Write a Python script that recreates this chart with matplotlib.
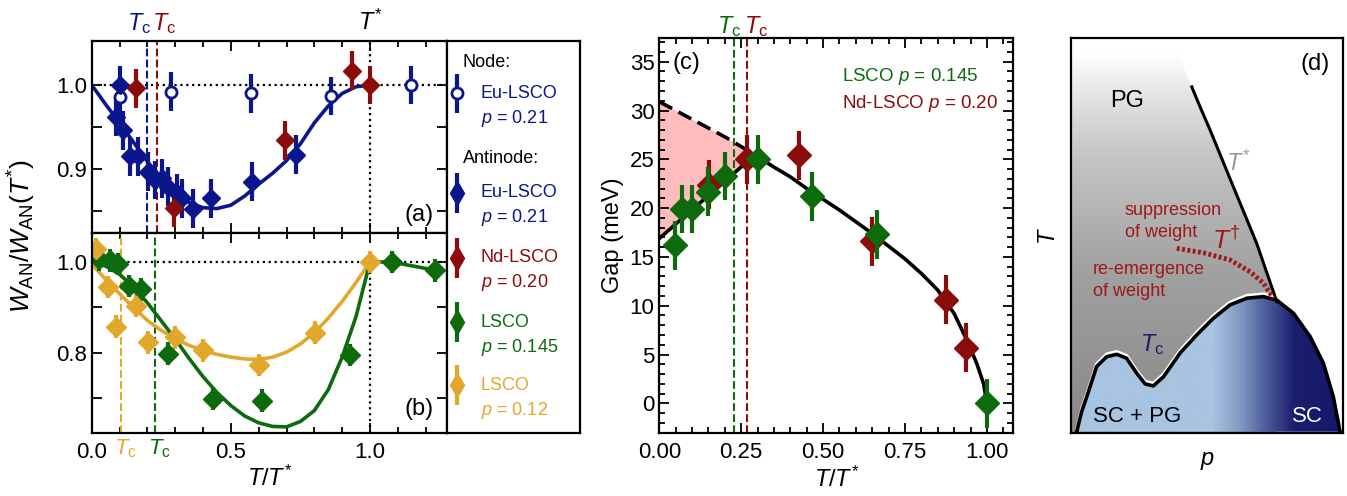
import numpy as np
import matplotlib
matplotlib.use('Agg')
import matplotlib.pyplot as plt
from matplotlib.colors import LinearSegmentedColormap
from matplotlib.patches import Polygon
from matplotlib.ticker import MultipleLocator, FixedLocator, NullFormatter, FormatStrFormatter

plt.rcParams['font.family'] = ['Liberation Sans', 'DejaVu Sans']
plt.rcParams['mathtext.fontset'] = 'custom'
plt.rcParams['mathtext.rm'] = 'Liberation Sans'
plt.rcParams['mathtext.it'] = 'Liberation Sans:italic'
plt.rcParams['mathtext.sf'] = 'Liberation Sans'
plt.rcParams['font.size'] = 16

blue = '#0c168c'
red = '#8c0c0c'
green = '#0d6b0d'
gold = '#e2a82c'

# panel (a): Eu-LSCO node / antinode, Nd-LSCO antinode
eu_node_x = [0.100, 0.284, 0.574, 0.859, 1.146]
eu_node_y = [0.986, 0.992, 0.990, 0.987, 1.000]
eu_an_x = [0.100, 0.087, 0.114, 0.138, 0.167, 0.203, 0.227, 0.252, 0.275, 0.305, 0.323, 0.363, 0.429, 0.577, 0.733]
eu_an_y = [1.000, 0.962, 0.946, 0.915, 0.915, 0.897, 0.887, 0.889, 0.879, 0.871, 0.865, 0.853, 0.865, 0.885, 0.917]
nd_an_x = [0.158, 0.294, 0.695, 0.934, 1.000]
nd_an_y = [0.996, 0.854, 0.934, 1.017, 1.000]
fit_a_x = [0, .05, .1, .15, .2, .25, .3, .35, .4, .45, .5, .55, .6, .65, .7, .75, .8, .85, .9, .95, 1.0]
fit_a_y = [1.0, .977, .955, .932, .909, .889, .872, .860, .854, .853, .857, .868, .882, .895, .910, .930, .955, .975, .990, .998, 1.0]
err_a = 0.023

# panel (b): LSCO p=0.145 and p=0.12
l145_x = [0.027, 0.065, 0.094, 0.133, 0.178, 0.274, 0.436, 0.611, 0.928, 1.078, 1.234]
l145_y = [1.006, 1.004, 0.996, 0.947, 0.940, 0.798, 0.698, 0.694, 0.795, 1.000, 0.982]
l145_hi_x = [1.0, 1.078, 1.234]
l145_hi_y = [1.0, 1.000, 0.982]
l12_x = [0.015, 0.059, 0.088, 0.160, 0.202, 0.300, 0.400, 0.601, 0.802, 1.000]
l12_y = [1.029, 0.945, 0.857, 0.904, 0.823, 0.834, 0.805, 0.773, 0.844, 1.000]
fit_b_x = [0, .05, .1, .15, .2, .25, .3, .35, .4, .45, .5, .55, .6, .65, .7, .75, .8, .85, .9, .95, 1.0]
fit145_y = [1.003, .991, .973, .945, .910, .870, .830, .787, .747, .712, .683, .660, .645, .637, .636, .648, .672, .718, .790, .880, 1.0]
fit12_y = [.995, .962, .930, .900, .871, .849, .831, .816, .805, .796, .790, .786, .785, .790, .801, .819, .844, .876, .913, .955, 1.0]
err_b = 0.025

# Tc / T* positions (T/T*)
tc_eu, tc_nd = 0.200, 0.235
tc_12, tc_145 = 0.106, 0.229

# panel (c): gap
gap_l_x = [0.048, 0.068, 0.099, 0.147, 0.200, 0.300, 0.467, 0.664, 1.000]
gap_l_y = [16.2, 19.9, 19.9, 21.7, 23.3, 25.0, 21.2, 17.3, 0.0]
gap_nd_x = [0.153, 0.267, 0.425, 0.649, 0.876, 0.937]
gap_nd_y = [22.4, 25.0, 25.4, 16.6, 10.6, 5.7]
err_c = 2.5
dash_c_x = [0, 0.05, 0.1, 0.15, 0.2, 0.25, 0.29]
dash_c_y = [30.9, 30.0, 29.1, 28.2, 27.3, 26.3, 25.5]
fit_c_x = [0.29, 0.35, 0.4, 0.45, 0.5, 0.55, 0.6, 0.65, 0.7, 0.75, 0.8, 0.85, 0.9, 0.94, 0.97, 0.99, 1.0]
fit_c_y = [25.5, 24.2, 23.2, 22.0, 20.9, 19.8, 18.6, 17.4, 16.1, 14.8, 13.3, 11.6, 9.2, 6.4, 4.0, 2.0, 0.0]
low_c_x = [0.0, 0.29]
low_c_y = [16.9, 25.4]
tc_c_145, tc_c_nd = 0.228, 0.267

# panel (d): schematic phase diagram (axes units)
dome_u = [0.022, 0.040, 0.059, 0.095, 0.132, 0.169, 0.205, 0.242, 0.273, 0.303, 0.34, 0.401, 0.462, 0.523,
          0.584, 0.646, 0.707, 0.756, 0.817, 0.878, 0.927, 0.963, 0.988]
dome_v = [0.004, 0.055, 0.093, 0.169, 0.194, 0.200, 0.190, 0.152, 0.125, 0.120, 0.143, 0.203, 0.249, 0.291,
          0.325, 0.342, 0.346, 0.337, 0.304, 0.245, 0.177, 0.093, 0.004]
tstar_u = [0.444, 0.474, 0.511, 0.584, 0.682, 0.756]
tstar_v = [0.877, 0.827, 0.768, 0.645, 0.481, 0.333]
tdag_u = [0.389, 0.487, 0.584, 0.658, 0.707, 0.743]
tdag_v = [0.468, 0.457, 0.439, 0.409, 0.380, 0.342]

fig = plt.figure(figsize=(13.47, 4.96), dpi=100)
ax_a = fig.add_axes([0.0681, 0.5296, 0.2635, 0.3877])
ax_b = fig.add_axes([0.0681, 0.1280, 0.2635, 0.4016])
ax_l = fig.add_axes([0.3316, 0.1280, 0.0990, 0.7893])
ax_c = fig.add_axes([0.4895, 0.1276, 0.2626, 0.7952])
ax_d = fig.add_axes([0.7949, 0.1264, 0.2024, 0.7964])


def style(ax):
    for s in ax.spines.values():
        s.set_linewidth(1.6)
    ax.tick_params(which='both', direction='in', top=True, right=True, width=1.3)
    ax.tick_params(which='major', length=7)
    ax.tick_params(which='minor', length=4)


# ---- (a)
ax = ax_a
style(ax)
ax.axhline(1.0, color='k', ls=':', lw=1.6)
ax.axvline(1.0, color='k', ls=':', lw=1.6)
ax.axvline(tc_eu, color=blue, ls='--', lw=1.5)
ax.axvline(tc_nd, color=red, ls='--', lw=1.5)
ax.plot(fit_a_x, fit_a_y, color=blue, lw=2.6)
ax.errorbar(eu_node_x, eu_node_y, yerr=err_a, fmt='o', ms=8, mfc='white', mec=blue, mew=2,
            color=blue, elinewidth=3, capsize=0)
ax.errorbar(eu_an_x, eu_an_y, yerr=err_a, fmt='D', ms=9, color=blue, elinewidth=3, capsize=0)
ax.errorbar(nd_an_x, nd_an_y, yerr=err_a, fmt='D', ms=9, color=red, elinewidth=3, capsize=0)
ax.set_xlim(0, 1.2756)
ax.set_ylim(0.8235, 1.0524)
ax.xaxis.set_major_locator(FixedLocator([0, 0.5, 1.0]))
ax.xaxis.set_minor_locator(MultipleLocator(0.1))
ax.xaxis.set_major_formatter(NullFormatter())
ax.yaxis.set_major_locator(FixedLocator([0.9, 1.0]))
ax.yaxis.set_minor_locator(FixedLocator([0.85, 0.95]))
ax.set_yticklabels(['0.9', '1.0'])
ax.tick_params(axis='y', which='minor', length=7)
ax.text(0.962, 0.095, '(a)', transform=ax.transAxes, ha='right', va='center', fontsize=17)
ax.text(0.215, 1.057, r'$T_{\mathrm{c}}$', color=blue, transform=ax.get_xaxis_transform(),
        ha='right', va='baseline', fontsize=17)
ax.text(0.218, 1.057, r'$T_{\mathrm{c}}$', color=red, transform=ax.get_xaxis_transform(),
        ha='left', va='baseline', fontsize=17)
ax.text(1.0, 1.057, r'$T^{*}$', color='k', transform=ax.get_xaxis_transform(),
        ha='center', va='baseline', fontsize=17)

# ---- (b)
ax = ax_b
style(ax)
ax.axhline(1.0, color='k', ls=':', lw=1.6)
ax.plot([1.0, 1.0], [0.6236, 1.0], color='k', ls=':', lw=1.6)
ax.axvline(tc_12, color=gold, ls='--', lw=1.5)
ax.axvline(tc_145, color=green, ls='--', lw=1.5)
ax.plot(fit_b_x, fit12_y, color=gold, lw=2.6)
ax.plot(fit_b_x, fit145_y, color=green, lw=2.6)
ax.plot(l145_hi_x, l145_hi_y, color=green, lw=2.6)
ax.errorbar(l145_x, l145_y, yerr=err_b, fmt='D', ms=10, color=green, elinewidth=3, capsize=0)
ax.errorbar(l12_x, l12_y, yerr=err_b, fmt='D', ms=10, color=gold, elinewidth=3, capsize=0)
ax.set_xlim(0, 1.2756)
ax.set_ylim(0.6236, 1.0634)
ax.xaxis.set_major_locator(FixedLocator([0, 0.5, 1.0]))
ax.xaxis.set_minor_locator(MultipleLocator(0.1))
ax.set_xticklabels(['0.0', '0.5', '1.0'])
ax.yaxis.set_major_locator(FixedLocator([0.8, 1.0]))
ax.yaxis.set_minor_locator(FixedLocator([0.7, 0.9]))
ax.set_yticklabels(['0.8', '1.0'])
ax.tick_params(axis='y', which='minor', length=7)
ax.tick_params(axis='x', pad=7)
ax.text(0.962, 0.118, '(b)', transform=ax.transAxes, ha='right', va='center', fontsize=17)
ax.text(0.12, -0.025, r'$T_{\mathrm{c}}$', color=gold, transform=ax.get_xaxis_transform(),
        ha='center', va='top', fontsize=16)
ax.text(0.245, -0.025, r'$T_{\mathrm{c}}$', color=green, transform=ax.get_xaxis_transform(),
        ha='center', va='top', fontsize=16)
ax.set_xlabel(r'$T/T^{*}$', fontsize=17, labelpad=2)
fig.text(0.016, 0.524, r'$W_{\mathrm{AN}}/W_{\mathrm{AN}}(T^{*})$', rotation=90,
         ha='center', va='center', fontsize=19)

# ---- legend box
ax = ax_l
for s in ax.spines.values():
    s.set_linewidth(1.6)
ax.set_xticks([])
ax.set_yticks([])
ax.set_xlim(0, 1)
ax.set_ylim(0, 1)
ax.text(0.122, 0.944, 'Node:', ha='left', va='center', fontsize=13)
ax.text(0.122, 0.701, 'Antinode:', ha='left', va='center', fontsize=13)
leg_rows = [
    (0.866, 'o', blue, 'Eu-LSCO', '0.21'),
    (0.612, 'd', blue, 'Eu-LSCO', '0.21'),
    (0.446, 'd', red, 'Nd-LSCO', '0.20'),
    (0.282, 'd', green, 'LSCO', '0.145'),
    (0.121, 'd', gold, 'LSCO', '0.12'),
]
for yy, mk, col, name, pval in leg_rows:
    if mk == 'o':
        ax.errorbar([0.075], [yy], yerr=0.051, fmt='o', ms=8, mfc='white', mec=col, mew=2,
                    color=col, elinewidth=3, capsize=0)
    else:
        ax.errorbar([0.075], [yy], yerr=0.051, fmt='d', ms=12, color=col, elinewidth=3, capsize=0)
    ax.text(0.255, yy, name, color=col, ha='left', va='center', fontsize=13)
    ax.text(0.255, yy - 0.064, r'$p$ = ' + pval, color=col, ha='left', va='center', fontsize=13)

# ---- (c)
ax = ax_c
style(ax)
poly_x = dash_c_x + low_c_x[::-1]
poly_y = dash_c_y + low_c_y[::-1]
ax.fill(poly_x, poly_y, color='#ffbcbc', lw=0, zorder=1)
ax.plot(dash_c_x, dash_c_y, color='k', ls=(0, (4, 2)), lw=2.6, zorder=2)
ax.plot(fit_c_x, fit_c_y, color='k', lw=2.6, zorder=2)
ax.plot(low_c_x, low_c_y, color='k', lw=2.6, zorder=2)
ax.axvline(tc_c_145, color=green, ls='--', lw=1.5, zorder=2)
ax.axvline(tc_c_nd, color=red, ls='--', lw=1.5, zorder=2)
ax.errorbar(gap_nd_x, gap_nd_y, yerr=err_c, fmt='D', ms=12, color=red, elinewidth=3, capsize=0, zorder=3)
ax.errorbar(gap_l_x, gap_l_y, yerr=err_c, fmt='D', ms=12, color=green, elinewidth=3, capsize=0, zorder=4)
ax.set_xlim(0, 1.080)
ax.set_ylim(-3.01, 37.40)
ax.xaxis.set_major_locator(MultipleLocator(0.25))
ax.xaxis.set_minor_locator(MultipleLocator(0.05))
ax.yaxis.set_major_locator(MultipleLocator(5))
ax.yaxis.set_minor_locator(MultipleLocator(1))
ax.xaxis.set_major_formatter(FormatStrFormatter('%.2f'))
ax.tick_params(axis='x', pad=7)
ax.set_xlabel(r'$T/T^{*}$', fontsize=17, labelpad=2)
ax.set_ylabel('Gap (meV)', fontsize=17, labelpad=4)
ax.text(0.038, 0.9386, '(c)', transform=ax.transAxes, ha='left', va='center', fontsize=17)
ax.text(0.557, 33.5, r'LSCO $p$ = 0.145', color=green, ha='left', va='center', fontsize=13.5)
ax.text(0.557, 30.7, r'Nd-LSCO $p$ = 0.20', color=red, ha='left', va='center', fontsize=13.5)
ax.text(0.249, 1.012, r'$T_{\mathrm{c}}$', color=green, transform=ax.get_xaxis_transform(),
        ha='right', va='baseline', fontsize=17)
ax.text(0.258, 1.012, r'$T_{\mathrm{c}}$', color=red, transform=ax.get_xaxis_transform(),
        ha='left', va='baseline', fontsize=17)

# ---- (d) schematic
ax = ax_d
for s in ax.spines.values():
    s.set_linewidth(1.6)
ax.set_xticks([])
ax.set_yticks([])
ax.set_xlim(0, 1)
ax.set_ylim(0, 1)

vv = np.linspace(0, 1, 200)
grey = np.interp(vv, [0, 0.4, 0.7, 0.85, 0.96], [0.53, 0.63, 0.77, 0.89, 1.0])
grey_img = np.repeat(grey[:, None], 10, axis=1)
grey_img = np.dstack([grey_img, grey_img, grey_img])
pg_poly = Polygon([(0, 0), (0, 1), (0.37, 1)] + list(zip(tstar_u, tstar_v)) + [(0.756, 0)],
                  closed=True, transform=ax.transData)
im = ax.imshow(grey_img, extent=(0, 1, 0, 1), origin='lower', aspect='auto', zorder=1)
im.set_clip_path(pg_poly)

sc_cmap = LinearSegmentedColormap.from_list('sc', [(0, '#a8c4e0'), (0.52, '#a8c4e0'), (0.62, '#8299c4'),
                                                   (0.72, '#4a5a9a'), (0.82, '#1b1e6e'), (1, '#15176a')])
uu = np.linspace(0, 1, 300)[None, :]
dome_poly = Polygon(list(zip(dome_u, dome_v)), closed=True, transform=ax.transData)
im2 = ax.imshow(np.repeat(uu, 10, axis=0), extent=(0, 1, 0, 1), origin='lower', aspect='auto',
                cmap=sc_cmap, vmin=0, vmax=1, zorder=2)
im2.set_clip_path(dome_poly)
# thin white halo just above the Tc line
ax.plot(dome_u, np.array(dome_v) + 0.007, color='white', lw=2.2, zorder=3)
ax.plot(dome_u, dome_v, color='k', lw=2.6, zorder=4)
ax.plot(tstar_u, tstar_v, color='k', lw=2.2, zorder=4)
ax.plot(tdag_u, tdag_v, color='#a01818', lw=3.5, ls=(0, (0.6, 0.5)), zorder=4)

ax.text(0.205, 0.84, 'PG', ha='center', va='center', fontsize=17, zorder=5)
ax.text(0.615, 0.684, r'$T^{*}$', color='#999999', ha='center', va='center', fontsize=17, zorder=5)
ax.text(0.199, 0.565, 'suppression', color='#a01818', ha='left', va='center', fontsize=13, zorder=5)
ax.text(0.199, 0.509, 'of weight', color='#a01818', ha='left', va='center', fontsize=13, zorder=5)
ax.text(0.572, 0.489, r'$T^{\dagger}$', color='#a01818', ha='center', va='center', fontsize=19, zorder=5)
ax.text(0.081, 0.415, 're-emergence', color='#a01818', ha='left', va='center', fontsize=13, zorder=5)
ax.text(0.081, 0.358, 'of weight', color='#a01818', ha='left', va='center', fontsize=13, zorder=5)
ax.text(0.297, 0.224, r'$T_{\mathrm{c}}$', color='#1b1e6e', ha='center', va='center', fontsize=17, zorder=5)
ax.text(0.083, 0.042, 'SC + PG', ha='left', va='center', fontsize=16, zorder=5)
ax.text(0.869, 0.042, 'SC', color='white', ha='center', va='center', fontsize=16, zorder=5)
ax.text(0.951, 0.935, '(d)', ha='right', va='center', fontsize=17, zorder=5)
ax.set_xlabel(r'$p$', fontsize=17, labelpad=12)
ax.set_ylabel(r'$T$', fontsize=17, labelpad=8)

fig.savefig('out.png', dpi=100)
